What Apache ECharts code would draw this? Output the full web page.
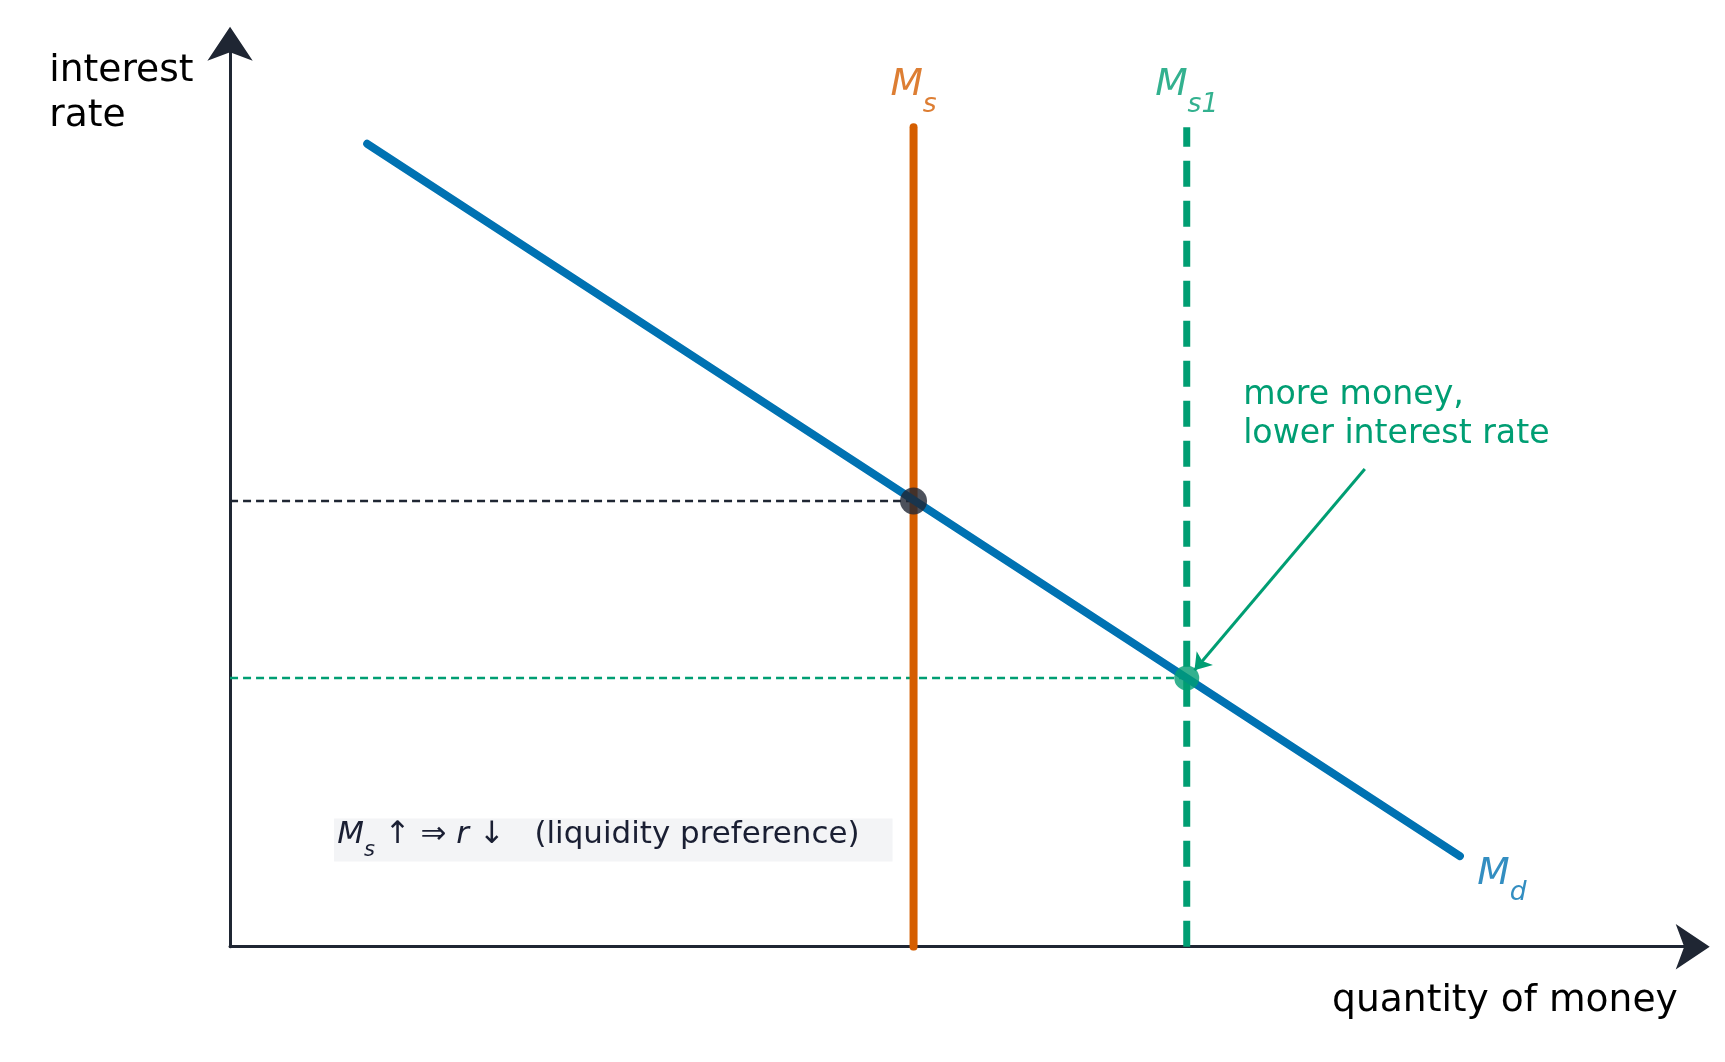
<!DOCTYPE html><html><head><meta charset="utf-8"><script src="https://cdn.jsdelivr.net/npm/echarts@6/dist/echarts.min.js"></script>
<style>html,body{margin:0;background:#fff}#c{width:1725px;height:1062px}</style></head><body><div id="c"></div><script>
const msX = 618, ms1X = 865, curveTop = 741;
const mdLine = [[124, 726], [1112, 82]];
const rStar = 403, r1 = 243;
const eqPoints = [[618, 403], [865, 243]];
const noteArrow = [[1026, 432], [872, 250]];
const S = 1.106, F = 'DejaVu Sans';
const dark = '#1f2633', orange = '#d55e00', blue = '#0072b2', green = '#009e73';
const ch = echarts.init(document.getElementById('c'));
const sub = (a, b, c) => ({ formatter: '{m|' + a + '}{s|' + b + '}', rich: { m: { fontFamily: F, fontStyle: 'italic', fontSize: 34 * S, color: c }, s: { fontFamily: F, fontStyle: 'italic', fontSize: 24 * S, color: c, verticalAlign: 'bottom', padding: [0, 0, -14, 0] } } });
const ax = { type: 'value', axisLine: { show: true, lineStyle: { color: dark, width: 3 }, symbol: ['none', 'arrow'], symbolSize: [34, 34], symbolOffset: [0, 12] }, axisTick: { show: false }, axisLabel: { show: false }, splitLine: { show: false } };
ch.setOption({
  animation: false,
  grid: { left: 208 * S, right: 1725 - 1535 * S, top: 35 * S, bottom: 1062 - 856 * S },
  xAxis: Object.assign({ min: 0, max: 1327 }, ax),
  yAxis: Object.assign({ min: 0, max: 821 }, ax),
  series: [
    { type: 'line', data: [[0, rStar], [msX, rStar]], symbol: 'none', lineStyle: { color: dark, width: 2.5, type: [8, 5] }, z: 1 },
    { type: 'line', data: [[0, r1], [ms1X, r1]], symbol: 'none', lineStyle: { color: green, width: 2.5, type: [8, 5] }, z: 1 },
    { type: 'line', data: [[msX, 0], [msX, curveTop]], symbol: 'none', lineStyle: { color: orange, width: 8, cap: 'round' }, z: 2 },
    { type: 'line', data: [[ms1X, 0], [ms1X, curveTop]], symbol: 'none', lineStyle: { color: green, width: 7, type: [26, 14] }, z: 2 },
    { type: 'line', data: mdLine, symbol: 'none', lineStyle: { color: blue, width: 8, cap: 'round' }, z: 3 },
    { type: 'scatter', data: [eqPoints[0]], symbolSize: 27, itemStyle: { color: dark }, z: 5 },
    { type: 'scatter', data: [eqPoints[1]], symbolSize: 25, itemStyle: { color: green }, z: 5 },
    { type: 'lines', coordinateSystem: 'cartesian2d', data: [{ coords: noteArrow }], symbol: ['none', 'arrow'], symbolSize: 16, lineStyle: { color: green, width: 3, opacity: 1 }, z: 6 },
    { type: 'scatter', symbolSize: 0, z: 7, data: [
      { value: [msX, 779], label: Object.assign({ show: true, position: 'inside' }, sub('M', 's', orange)) },
      { value: [ms1X, 779], label: Object.assign({ show: true, position: 'inside' }, sub('M', 's1', green)) },
      { value: [1150, 66], label: Object.assign({ show: true, position: 'inside' }, sub('M', 'd', blue)) },
      { value: [-45, 408], label: Object.assign({ show: true, position: 'inside', formatter: '{m|r}{s|*}', rich: { m: { fontFamily: F, fontStyle: 'italic', fontSize: 34 * S, color: dark }, s: { fontFamily: F, fontSize: 24 * S, color: dark, verticalAlign: 'top', padding: [-12, 0, 0, 0] } } }) },
      { value: [-40, 245], label: Object.assign({ show: true, position: 'inside' }, sub('r', '1', green)) }
    ] }
  ],
  graphic: [
    { type: 'text', right: 1725 - 175 * S, top: 44 * S, style: { text: 'interest\nrate', fontFamily: F, fontSize: 34 * S, lineHeight: 41 * S, fill: '#000', align: 'right' } },
    { type: 'text', right: 1725 - 1517 * S, top: 888 * S, style: { text: 'quantity of money', fontFamily: F, fontSize: 34 * S, fill: '#000' } },
    { type: 'text', left: 1124 * S, top: 340 * S, style: { text: 'more money,\nlower interest rate', fontFamily: F, fontSize: 30 * S, lineHeight: 35 * S, fill: green } },
    { type: 'rect', left: 302 * S, top: 740 * S, shape: { width: 505 * S, height: 39 * S }, style: { fill: '#f3f4f6' } },
    { type: 'text', left: 305 * S, top: 741 * S, style: { text: '{i|M}{s|s}{n| ↑ ⇒ }{i|r}{n| ↓   (liquidity preference)}', rich: { i: { fontFamily: F, fontStyle: 'italic', fontSize: 28 * S, fill: '#1a1f33' }, s: { fontFamily: F, fontStyle: 'italic', fontSize: 19 * S, fill: '#1a1f33', verticalAlign: 'bottom', padding: [0, 0, -10, 0] }, n: { fontFamily: F, fontSize: 28 * S, fill: '#1a1f33' } } } }
  ]
});
</script></body></html>
